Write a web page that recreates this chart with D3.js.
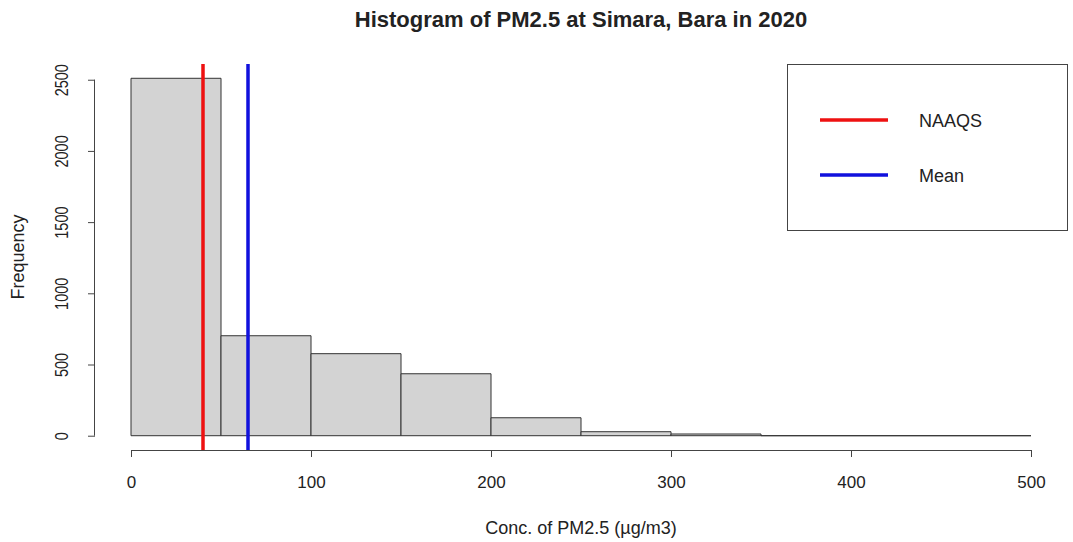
<!DOCTYPE html>
<html>
<head>
<meta charset="utf-8">
<script src="https://cdn.jsdelivr.net/npm/d3@7"></script>
<style>
  body { margin: 0; background: #fff; }
  svg text { font-family: "Liberation Sans", Arial, sans-serif; fill: #222; }
</style>
</head>
<body>
<svg id="chart" width="1073" height="542"></svg>
<script>
// histogram bins (PM2.5, ug/m3) and counts
var breaks = [0, 50, 100, 150, 200, 250, 300, 350, 400, 450, 500];
var counts = [2510, 702, 576, 435, 126, 28, 12, 0, 0, 0];
var xTicks = [0, 100, 200, 300, 400, 500];
var yTicks = [0, 500, 1000, 1500, 2000, 2500];
var naaqs = 40;
var meanVal = 65;
var legendNames = ["NAAQS", "Mean"];
var legendColors = ["#ee1111", "#1111dd"];

var svg = d3.select("#chart"),
    plotL = 95, plotR = 1067, plotT = 64, plotB = 450;

// R style: 4% padding around data range
var xMax = 500, yMax = d3.max(counts);
var x = d3.scaleLinear().domain([-0.04 * xMax, 1.04 * xMax]).range([plotL, plotR]);
var y = d3.scaleLinear().domain([-0.04 * yMax, 1.04 * yMax]).range([plotB, plotT]);

var bins = counts.map(function (c, i) { return {x0: breaks[i], x1: breaks[i + 1], n: c}; });

// bars as closed paths so empty bins still show as a flat line
svg.selectAll("path.bar")
    .data(bins)
    .enter().append("path")
    .attr("class", "bar")
    .attr("d", function (d) {
        var p = d3.path();
        p.rect(x(d.x0), y(d.n), x(d.x1) - x(d.x0), y(0) - y(d.n));
        return p.toString();
    })
    .attr("fill", "#d3d3d3")
    .attr("stroke", "#333")
    .attr("stroke-width", 1);

// vertical reference lines across whole plot region
[naaqs, meanVal].forEach(function (v, i) {
    svg.append("line")
        .attr("x1", x(v)).attr("x2", x(v))
        .attr("y1", plotT).attr("y2", plotB)
        .attr("stroke", legendColors[i])
        .attr("stroke-width", 3.5);
});

// x axis
var xAxis = d3.axisBottom(x).tickValues(xTicks).tickSize(7).tickPadding(19).tickFormat(d3.format("d"));
var gx = svg.append("g").attr("transform", "translate(0," + plotB + ")").call(xAxis);
gx.select(".domain").attr("d", "M" + x(0) + ",0.5H" + x(500)).attr("stroke", "#444");
gx.selectAll(".tick line").attr("stroke", "#444");
gx.selectAll("text").style("font-size", "17px").attr("fill", "#333");

// y axis
var yAxis = d3.axisLeft(y).tickValues(yTicks).tickSize(7).tickPadding(0).tickFormat(d3.format("d"));
var gy = svg.append("g").attr("transform", "translate(" + plotL + ",0)").call(yAxis);
gy.select(".domain").attr("d", "M-0.5," + y(0) + "V" + y(2500)).attr("stroke", "#444");
gy.selectAll(".tick line").attr("stroke", "#444");
gy.selectAll("text")
    .style("font-size", "14.5px").attr("fill", "#333")
    .attr("x", 0).attr("y", 0).attr("dy", null)
    .attr("text-anchor", "middle")
    .attr("transform", "translate(-27,0) rotate(-90) scale(1,1.3)");

// title and axis labels
svg.append("text")
    .attr("x", (plotL + plotR) / 2).attr("y", 27)
    .attr("text-anchor", "middle")
    .style("font-size", "22px").style("font-weight", "bold")
    .text("Histogram of PM2.5 at Simara, Bara in 2020");

svg.append("text")
    .attr("x", (plotL + plotR) / 2).attr("y", 534)
    .attr("text-anchor", "middle")
    .style("font-size", "18px").attr("fill", "#333")
    .text("Conc. of PM2.5 (µg/m3)");

svg.append("text")
    .attr("transform", "translate(24," + (plotT + plotB) / 2 + ") rotate(-90)")
    .attr("text-anchor", "middle")
    .style("font-size", "18px").attr("fill", "#333")
    .text("Frequency");

// legend
var lg = svg.append("g");
lg.append("rect")
    .attr("x", 787.5).attr("y", 64.5).attr("width", plotR - 787).attr("height", 166)
    .attr("fill", "#fff").attr("stroke", "#444");
legendNames.forEach(function (name, i) {
    var ly = 120 + i * 55;
    lg.append("line")
        .attr("x1", 820).attr("x2", 888).attr("y1", ly).attr("y2", ly)
        .attr("stroke", legendColors[i]).attr("stroke-width", 3.5);
    lg.append("text")
        .attr("x", 919).attr("y", ly + 7)
        .style("font-size", "18px").attr("fill", "#333")
        .text(name);
});
</script>
</body>
</html>
